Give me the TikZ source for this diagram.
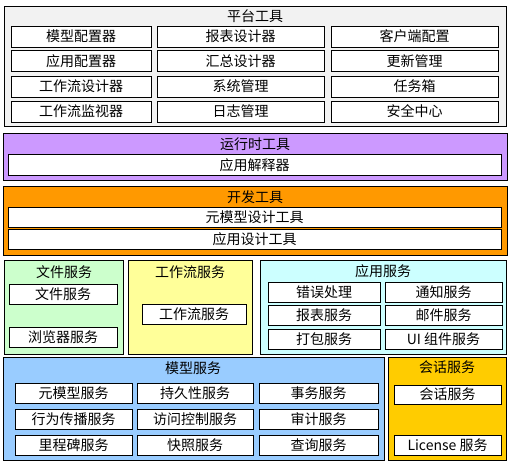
\documentclass[tikz,border=0pt]{standalone}
\usepackage{fontspec}
\setmainfont{Noto Sans CJK SC}
\usepackage{tikz}
\definecolor{toolgray}{HTML}{F2F2F2}
\definecolor{runpurple}{HTML}{CC99FF}
\definecolor{devorange}{HTML}{FF9900}
\definecolor{filegreen}{HTML}{CCFFCC}
\definecolor{flowyellow}{HTML}{FFFF99}
\definecolor{appcyan}{HTML}{CCFFFF}
\definecolor{modelblue}{HTML}{99CCFF}
\definecolor{sessiongold}{HTML}{FFCC00}
\tikzset{
  every picture/.style={line join=miter, font=\fontsize{14}{16}\selectfont},
  layer/.style={draw=black, line width=0.8pt},
  cell/.style={draw=black, fill=white, line width=0.8pt, inner sep=0pt, minimum height=21pt},
  title/.style={inner sep=0pt},
}

\begin{document}
\begin{tikzpicture}[x=1pt,y=-1pt]
\useasboundingbox (0,0) rectangle (512,466);
% platform tools
\draw[layer,fill=toolgray](4,6) rectangle (506,126);
\node[title] (plat) at (255,16) {平台工具};
\node[cell,minimum width=140pt] (p11) at (81,36.5) {模型配置器};
\node[cell,minimum width=140pt] (p21) at (81,61) {应用配置器};
\node[cell,minimum width=140pt] (p31) at (81,86.5) {工作流设计器};
\node[cell,minimum width=140pt] (p41) at (81,111.5) {工作流监视器};
\node[cell,minimum width=167pt] (p12) at (240.5,36.5) {报表设计器};
\node[cell,minimum width=167pt] (p22) at (240.5,61) {汇总设计器};
\node[cell,minimum width=167pt] (p32) at (240.5,86.5) {系统管理};
\node[cell,minimum width=167pt] (p42) at (240.5,111.5) {日志管理};
\node[cell,minimum width=167pt] (p13) at (414.5,36.5) {客户端配置};
\node[cell,minimum width=167pt] (p23) at (414.5,61) {更新管理};
\node[cell,minimum width=167pt] (p33) at (414.5,86.5) {任务箱};
\node[cell,minimum width=167pt] (p43) at (414.5,111.5) {安全中心};
% runtime tools
\draw[layer,fill=runpurple](3,133) rectangle (507,180);
\node[title] (run) at (255,144) {运行时工具};
\node[cell,minimum width=493pt] (interp) at (254.5,165) {应用解释器};
% development tools
\draw[layer,fill=devorange](3,186) rectangle (507,255);
\node[title] (dev) at (255,197) {开发工具};
\node[cell,minimum width=493pt,minimum height=20pt] (metadesign) at (254.5,217) {元模型设计工具};
\node[cell,minimum width=493pt,minimum height=20pt] (appdesign) at (254.5,239) {应用设计工具};
% file services
\draw[layer,fill=filegreen](4,260) rectangle (123,354);
\node[title] (file) at (64,272) {文件服务};
\node[cell,minimum width=108pt,minimum height=20pt] (filesvc) at (63,294) {文件服务};
\node[cell,minimum width=108pt,minimum height=20pt] (browsesvc) at (63,337) {浏览器服务};
% workflow services
\draw[layer,fill=flowyellow](128,260) rectangle (252,354);
\node[title] (flow) at (190,272) {工作流服务};
\node[cell,minimum width=104pt,minimum height=20pt] (flowsvc) at (194,314) {工作流服务};
% application services
\draw[layer,fill=appcyan](260,260) rectangle (506,354);
\node[title] (app) at (383,271) {应用服务};
\node[cell,minimum width=112pt,minimum height=20pt] (a11) at (324,292) {错误处理};
\node[cell,minimum width=112pt,minimum height=20pt] (a21) at (324,315) {报表服务};
\node[cell,minimum width=112pt,minimum height=20pt] (a31) at (324,339) {打包服务};
\node[cell,minimum width=117pt,minimum height=20pt] (a12) at (443.5,292) {通知服务};
\node[cell,minimum width=117pt,minimum height=20pt] (a22) at (443.5,315) {邮件服务};
\node[cell,minimum width=117pt,minimum height=20pt] (a32) at (443.5,339) {UI 组件服务};
% model services
\draw[layer,fill=modelblue](3,357) rectangle (384,460);
\node[title] (model) at (193,368) {模型服务};
\node[cell,minimum width=117pt,minimum height=20pt] (m11) at (73.5,393.5) {元模型服务};
\node[cell,minimum width=117pt,minimum height=20pt] (m21) at (73.5,419) {行为传播服务};
\node[cell,minimum width=117pt,minimum height=20pt] (m31) at (73.5,445.5) {里程碑服务};
\node[cell,minimum width=116pt,minimum height=20pt] (m12) at (195,393.5) {持久性服务};
\node[cell,minimum width=116pt,minimum height=20pt] (m22) at (195,419) {访问控制服务};
\node[cell,minimum width=116pt,minimum height=20pt] (m32) at (195,445.5) {快照服务};
\node[cell,minimum width=119pt,minimum height=20pt] (m13) at (318.5,393.5) {事务服务};
\node[cell,minimum width=119pt,minimum height=20pt] (m23) at (318.5,419) {审计服务};
\node[cell,minimum width=119pt,minimum height=20pt] (m33) at (318.5,445.5) {查询服务};
% session services
\draw[layer,fill=sessiongold](388,357) rectangle (506,460);
\node[title] (session) at (447,367) {会话服务};
\node[cell,minimum width=107pt,minimum height=19pt] (sessionsvc) at (447.5,394.5) {会话服务};
\node[cell,minimum width=107pt,minimum height=20pt] (license) at (447.5,445.5) {License 服务};
\end{tikzpicture}
\end{document}
